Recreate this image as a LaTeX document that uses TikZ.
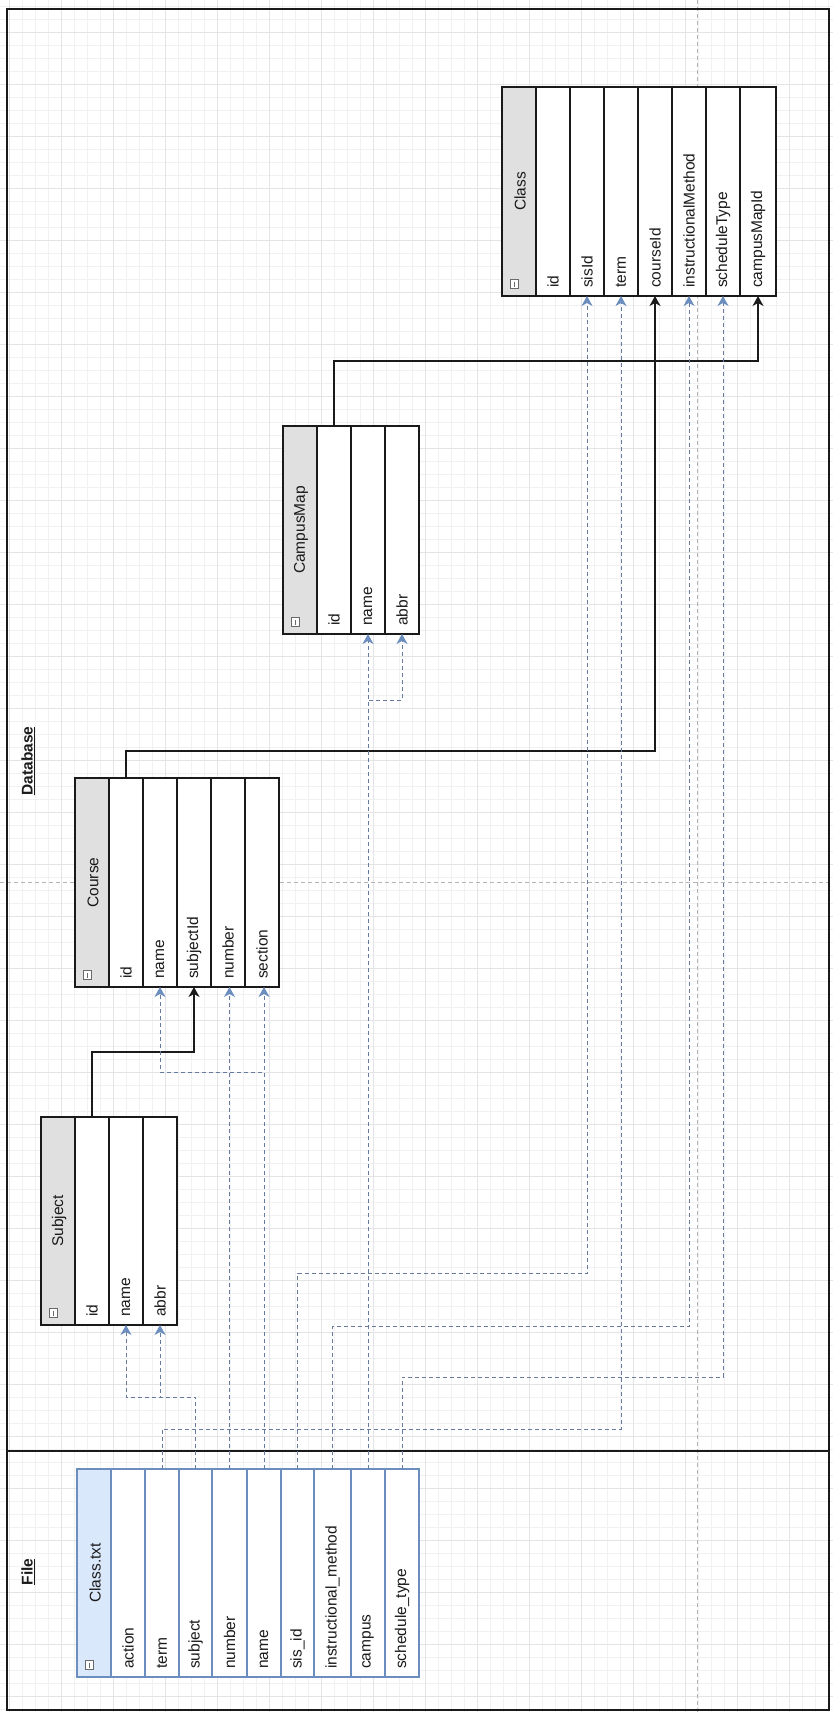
\documentclass[tikz,border=0pt]{standalone}
\usepackage{fontspec}
\setmainfont{Liberation Sans}
\usetikzlibrary{arrows.meta,calc}
\definecolor{hdrgray}{HTML}{E0E0E0}
\definecolor{hdrblue}{HTML}{DAE8FC}
\definecolor{edgeblue}{HTML}{6C8EBF}
\definecolor{dashcol}{HTML}{667B9F}
\definecolor{pagebrk}{HTML}{B4B4B4}
\definecolor{gridminor}{HTML}{F1F1F1}
\definecolor{gridmajor}{HTML}{E4E4E4}
\definecolor{inkc}{HTML}{1A1A1A}
\definecolor{iconc}{HTML}{6A6A6A}
\newcommand\tblfont{\fontsize{15.5}{18}\selectfont}
\newcommand\tblrows[4]{%
  \foreach \l/\r/\nm/\lab in {#4}{%
    \node[cell, minimum width={\r-\l}, minimum height={#3-#2}] (#1-\nm) at ({(\l+\r)/2},{(#2+#3)/2}) {};
    \node[celltext] (#1-\nm-t) at ({(\l+\r)/2},{#3-8}) {\lab};
  }}
\newcommand\tblhead[6]{% prefix, left, right, top, bottom, title
  \node[hdr, minimum width={#3-#2}, minimum height={#5-#4}] (#1-hdr) at ({(#2+#3)/2},{(#4+#5)/2}) {};
  \node[titletext] (#1-title) at ({(#2+#3)/2+1},{(#4+#5)/2}) {#6};
  \node[iconbox] (#1-icon) at ({(#2+#3)/2-5},{#5-12}) {};
}
\begin{document}
\begin{tikzpicture}[x=1pt,y=-1pt,
  cellblack/.style={draw=inkc, line width=1.2pt, fill=white, inner sep=0pt, outer sep=0pt},
  cellblue/.style={draw=edgeblue, line width=1.2pt, fill=white, inner sep=0pt, outer sep=0pt},
  cell/.style={cellblack},
  hdr/.style={cell, fill=hdrgray},
  celltext/.style={rotate=90, anchor=west, inner sep=0pt, font=\tblfont, text=inkc},
  titletext/.style={rotate=90, anchor=center, inner sep=0pt, font=\tblfont, text=inkc},
  iconbox/.style={draw=iconc, fill=white, line width=0.8pt, minimum width=8pt, minimum height=9pt, inner sep=0pt,
    path picture={\draw[iconc, line width=0.9pt] ([yshift=-2pt]path picture bounding box.north) -- ([yshift=2pt]path picture bounding box.south);}},
  sectlabel/.style={rotate=90, anchor=center, inner sep=0pt, font=\tblfont\bfseries, text=inkc},
  solidlink/.style={draw=inkc, line width=1.2pt, -{Stealth[length=10pt,width=11pt,inset=3pt]}},
  dashlink/.style={draw=dashcol, line width=1pt, dash pattern=on 4pt off 3pt,
    -{Stealth[length=10pt,width=11pt,inset=3pt,color=edgeblue]}},
  pagebreak/.style={draw=pagebrk, line width=0.8pt, dash pattern=on 4pt off 3pt},
  gmin/.style={draw=gridminor, line width=0.6pt},
  gmaj/.style={draw=gridmajor, line width=0.6pt},
  frameline/.style={draw=inkc, line width=1.3pt}
]
\useasboundingbox (0,0) rectangle (833,1712);
\fill[white] (0,0) rectangle (833,1712);
% grid
\foreach \k in {-1,...,64} \draw[gmin] ({9+13*\k},0) -- ({9+13*\k},1712);
\foreach \k in {-3,...,129} \draw[gmin] (0,{32+13*\k}) -- (833,{32+13*\k});
\foreach \k in {0,...,16} \draw[gmaj] ({9+52*\k},0) -- ({9+52*\k},1712);
\foreach \k in {0,...,32} \draw[gmaj] (0,{32+52*\k}) -- (833,{32+52*\k});
% page breaks
\draw[pagebreak] (697,0) -- (697,1712);
\draw[pagebreak] (0,882) -- (833,882);
% frame
\draw[frameline] (7,9) rectangle (829,1710);
\draw[frameline] (7,1451) -- (829,1451);
\node[sectlabel] (dblabel) at (28,761) {\underline{Database}};
\node[sectlabel] (filelabel) at (28,1572) {\underline{File}};

% Class table
\tblhead{cl}{502}{536}{87}{296}{Class}
\tblrows{cl}{87}{296}{536/570/id/id, 570/604/sisid/sisId, 604/638/term/term, 638/672/courseid/courseId, 672/706/instr/instructionalMethod, 706/740/sched/scheduleType, 740/776/campusmapid/campusMapId}
% CampusMap
\tblhead{cm}{283}{317}{426}{634}{CampusMap}
\tblrows{cm}{426}{634}{317/351/id/id, 351/385/name/name, 385/419/abbr/abbr}
% Course
\tblhead{co}{75}{109}{778}{987}{Course}
\tblrows{co}{778}{987}{109/143/id/id, 143/177/name/name, 177/211/subjectid/subjectId, 211/245/number/number, 245/279/section/section}
% Subject
\tblhead{s}{41}{75}{1117}{1325}{Subject}
\tblrows{s}{1117}{1325}{75/109/id/id, 109/143/name/name, 143/177/abbr/abbr}
% File Class.txt
\begin{scope}[cell/.style={cellblue}, hdr/.style={cell, fill=hdrblue}]
\tblhead{f}{77}{111}{1469}{1677}{Class.txt}
\tblrows{f}{1469}{1677}{111/145/action/action, 145/179/term/term, 179/212/subject/subject, 212/247/number/number, 247/281/name/name, 281/314/sisid/sis\_id, 314/351/instr/instructional\_method, 351/385/campus/campus, 385/419/sched/schedule\_type}
\end{scope}

% bend levels
\coordinate (b-subj) at (0,1052);
\coordinate (b-course) at (0,751);
\coordinate (b-campus) at (0,361);
\coordinate (b-term) at (0,1429);
\coordinate (b-subject) at (0,1397);
\coordinate (b-name) at (0,1072);
\coordinate (b-sis) at (0,1273);
\coordinate (b-instr) at (0,1326);
\coordinate (b-cabbr) at (0,700);
\coordinate (b-sched) at (0,1377);

% solid foreign keys
\draw[solidlink] (s-id.north) -- (s-id.north |- b-subj) -| (co-subjectid.south);
\draw[solidlink] (co-id.north) -- (co-id.north |- b-course) -| (cl-courseid.south);
\draw[solidlink] (cm-id.north) -- (cm-id.north |- b-campus) -| (cl-campusmapid.south);

% dashed mappings
\draw[dashlink] (f-term.north) -- (f-term.north |- b-term) -| (cl-term.south);
\draw[dashlink] (f-subject.north) -- (f-subject.north |- b-subject) -| (s-name.south);
\draw[dashlink] (f-subject.north) -- (f-subject.north |- b-subject) -| (s-abbr.south);
\draw[dashlink] (f-number.north) -- (f-number.north |- co-number.south);
\draw[dashlink] (f-name.north) -- (f-name.north |- co-section.south);
\draw[dashlink] (f-name.north) -- (f-name.north |- b-name) -| (co-name.south);
\draw[dashlink] (f-sisid.north) -- (f-sisid.north |- b-sis) -| (cl-sisid.south);
\draw[dashlink] (f-instr.north) -- (f-instr.north |- b-instr) -| (cl-instr.south);
\draw[dashlink] (f-campus.north) -- (f-campus.north |- cm-name.south);
\draw[dashlink] (f-campus.north) -- (f-campus.north |- b-cabbr) -| (cm-abbr.south);
\draw[dashlink] (f-sched.north) -- (f-sched.north |- b-sched) -| (cl-sched.south);
\end{tikzpicture}
\end{document}
